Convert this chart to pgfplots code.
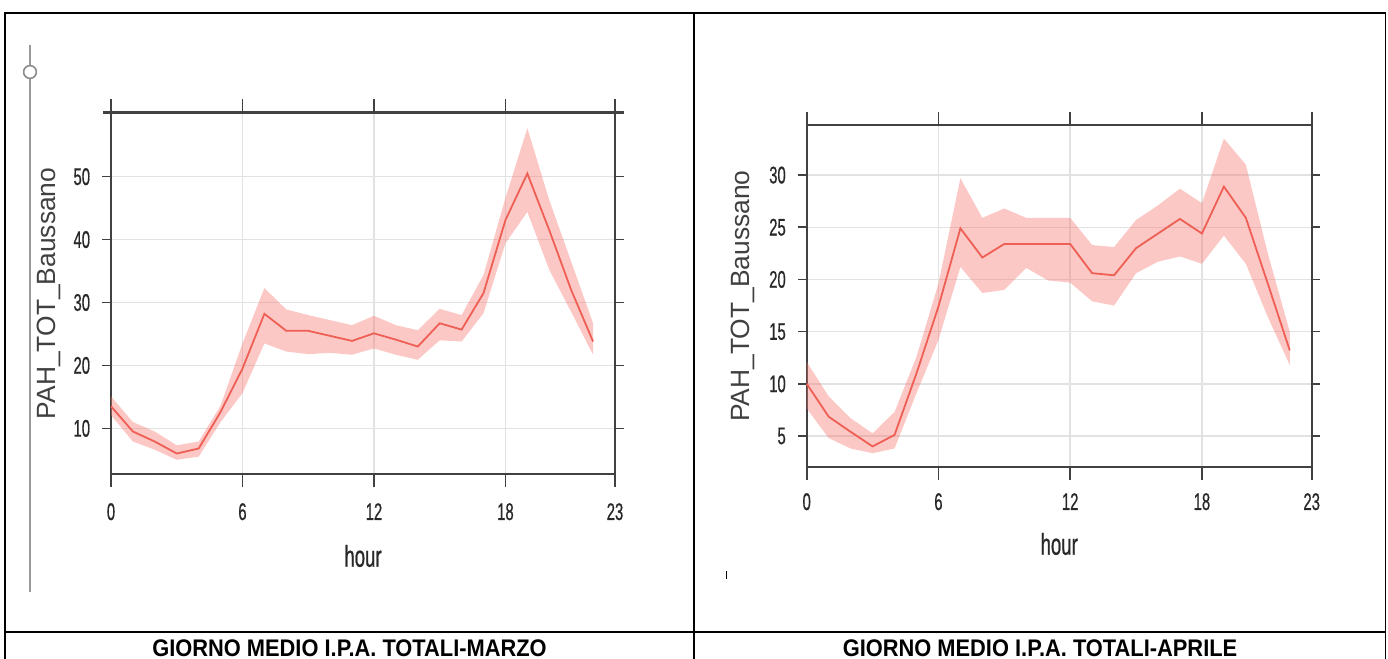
\documentclass[border=0pt]{standalone}
\usepackage{pgfplots}
\pgfplotsset{compat=1.18}
\usepackage{pgfplotstable}
\usepgfplotslibrary{fillbetween}
\usepackage{fontspec}
\setmainfont{Liberation Sans}
\newfontfamily\condfont{Liberation Sans}[FakeStretch=0.62, FakeBold=0.6]
\newfontfamily\capfont{Liberation Sans}[FakeStretch=0.91]

\definecolor{axisgray}{RGB}{65,65,65}
\definecolor{gridgray}{RGB}{226,226,226}
\definecolor{labgray}{RGB}{40,40,40}
\definecolor{ylabgray}{RGB}{64,64,64}
\definecolor{ggred}{RGB}{248,118,109}
\definecolor{linec}{RGB}{238,95,85}

\pgfplotstableread{
h m lo hi
0 13.5 12.1 15.1
1 9.5 7.9 11.0
2 7.9 6.6 9.5
3 6.0 5.0 7.3
4 6.8 5.5 7.9
5 12.6 11.0 13.6
6 19.5 15.6 23.5
7 28.2 23.5 32.3
8 25.5 22.2 28.9
9 25.5 21.8 28.0
10 24.7 22.0 27.2
11 23.9 21.7 26.4
12 25.1 22.7 27.9
13 24.1 21.7 26.4
14 23.0 20.9 25.6
15 26.7 24.0 29.0
16 25.7 23.8 28.0
17 31.5 28.3 34.4
18 43.1 39.4 46.6
19 50.5 44.4 57.7
20 41.5 35.2 46.3
21 32.0 28.5 36.5
22 23.8 21.7 26.7
}\marzo

\pgfplotstableread{
h m lo hi
0 10.0 7.65 12.1
1 6.85 4.8 8.8
2 5.4 3.8 6.7
3 4.0 3.35 5.25
4 5.1 3.8 7.3
5 11.0 9.1 12.6
6 17.4 14.2 19.6
7 24.9 21.2 29.7
8 22.1 18.7 25.9
9 23.4 19.0 26.8
10 23.4 21.1 25.9
11 23.4 19.9 25.9
12 23.4 19.7 25.9
13 20.6 17.9 23.3
14 20.4 17.5 23.1
15 23.0 20.6 25.7
16 24.4 21.7 27.1
17 25.8 22.2 28.7
18 24.4 21.5 27.3
19 28.9 24.2 33.5
20 25.9 21.5 31.0
21 19.6 16.4 22.5
22 13.2 11.8 15.0
}\aprile

\pgfplotsset{
  mystyle/.style={
    scale only axis,
    xmin=0, xmax=23,
    axis line style={draw=axisgray, line width=0.8pt},
    xtick={0,6,12,18,23}, xticklabels={0,6,12,18,23},
    tick align=outside, tick pos=both,
    xtick style={draw=axisgray, line width=0.8pt, /pgfplots/major tick length=6.5pt},
    ytick style={draw=axisgray, line width=0.8pt, /pgfplots/major tick length=4.25pt},
    grid=major, major grid style={draw=gridgray, line width=0.7pt},
    xticklabel style={font=\condfont\fontsize{12}{14}\selectfont, text=labgray, anchor=north, inner sep=0pt},
    yticklabel style={font=\condfont\fontsize{12}{14}\selectfont, text=labgray, anchor=east, inner sep=0pt, xshift=-6pt},
    xlabel={hour},
    xlabel style={font=\condfont\fontsize{15}{17}\selectfont, text=labgray, anchor=center},
    ylabel={PAH\_TOT\_Baussano},
    ylabel style={font=\fontsize{13.2}{15}\selectfont, text=ylabgray, anchor=center},
    clip=false,
  }
}

\begin{document}
\begin{tikzpicture}
% table frame
\draw[black, line width=0.9pt] (2.5pt,-2pt) -- (2.5pt,323pt) -- (692.75pt,323pt) -- (692.75pt,-2pt);
\draw[black, line width=0.9pt] (347pt,-2pt) -- (347pt,323pt);
\draw[black, line width=1pt] (2.5pt,13.5pt) -- (692.75pt,13.5pt);
% slider widget
\draw[black!40, line width=0.6pt] (15pt,33.5pt) -- (15pt,307pt);
\draw[black!45, line width=0.8pt, fill=white] (15pt,293.5pt) circle (3.2pt);
\draw[black, line width=0.5pt] (363pt,40pt) -- (363pt,44pt);

\begin{axis}[mystyle,
  at={(55.5pt,92.35pt)}, anchor=south west,
  width=252pt, height=180.9pt,
  ymin=2.7, ymax=60.2,
  ytick={10,20,30,40,50}, yticklabels={10,20,30,40,50},
  xticklabel style={yshift=-10pt},
  ylabel style={at={(axis description cs:-0.123,0.5)}},
  xlabel style={at={(axis description cs:0.5,0)}, yshift=-40.85pt},
]
\addplot[name path=up, draw=none, forget plot] table[x=h,y=hi]{\marzo};
\addplot[name path=lo, draw=none, forget plot] table[x=h,y=lo]{\marzo};
\addplot[fill=ggred, fill opacity=0.4, draw=none] fill between[of=up and lo];
\addplot[linec, line width=0.9pt, mark=none] table[x=h,y=m]{\marzo};
\draw[axisgray, line width=1.1pt] ([xshift=-4pt]rel axis cs:0,1) -- ([xshift=4.5pt]rel axis cs:1,1);
\end{axis}

\begin{axis}[mystyle,
  at={(403.35pt,95.85pt)}, anchor=south west,
  width=252.5pt, height=171.15pt,
  ymin=2.0, ymax=34.8,
  ytick={5,10,15,20,25,30}, yticklabels={5,10,15,20,25,30},
  xticklabel style={yshift=-8.5pt},
  ylabel style={at={(axis description cs:-0.126,0.5)}},
  xlabel style={at={(axis description cs:0.5,0)}, yshift=-38.35pt},
]
\addplot[name path=up, draw=none, forget plot] table[x=h,y=hi]{\aprile};
\addplot[name path=lo, draw=none, forget plot] table[x=h,y=lo]{\aprile};
\addplot[fill=ggred, fill opacity=0.4, draw=none] fill between[of=up and lo];
\addplot[linec, line width=0.9pt, mark=none] table[x=h,y=m]{\aprile};
\end{axis}

\node[anchor=base, inner sep=0pt, font=\capfont\bfseries\fontsize{12}{14}\selectfont] at (174.75pt,1.3pt) {GIORNO MEDIO I.P.A. TOTALI-MARZO};
\node[anchor=base, inner sep=0pt, font=\capfont\bfseries\fontsize{12}{14}\selectfont] at (520pt,1.3pt) {GIORNO MEDIO I.P.A. TOTALI-APRILE};
\pgfresetboundingbox
\useasboundingbox (0,0) rectangle (694pt,329.5pt);
\end{tikzpicture}
\end{document}
